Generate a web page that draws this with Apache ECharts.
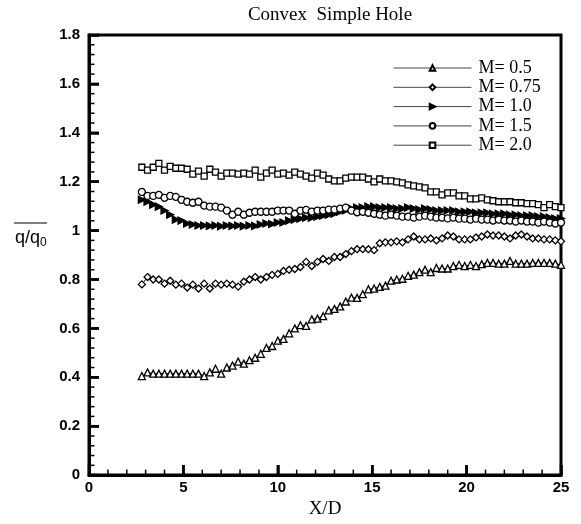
<!DOCTYPE html>
<html>
<head>
<meta charset="utf-8">
<script src="https://cdn.jsdelivr.net/npm/echarts@6/dist/echarts.min.js"></script>
<style>html,body{margin:0;padding:0;background:#fff;}#c{width:581px;height:524px;}</style>
</head>
<body>
<div id="c"></div>
<script>
const xs = [
  2.8,3.1,3.4,3.7,4.0,4.3,4.6,4.9,5.2,5.5,
  5.8,6.1,6.4,6.7,7.0,7.3,7.6,7.9,8.2,8.5,
  8.8,9.1,9.4,9.7,10.0,10.3,10.6,10.9,11.2,11.5,
  11.8,12.1,12.4,12.7,13.0,13.3,13.6,13.9,14.2,14.5,
  14.8,15.1,15.4,15.7,16.0,16.3,16.6,16.9,17.2,17.5,
  17.8,18.1,18.4,18.7,19.0,19.3,19.6,19.9,20.2,20.5,
  20.8,21.1,21.4,21.7,22.0,22.3,22.6,22.9,23.2,23.5,
  23.8,24.1,24.4,24.7,25.0
];
const seriesNames = ['M= 0.5','M= 0.75','M= 1.0','M= 1.5','M= 2.0'];
const m05 = [
  0.405,0.42,0.415,0.415,0.415,0.415,0.415,0.415,0.415,0.415,
  0.415,0.405,0.42,0.435,0.415,0.44,0.448,0.464,0.456,0.47,
  0.48,0.496,0.52,0.528,0.55,0.557,0.58,0.60,0.613,0.61,
  0.637,0.64,0.65,0.674,0.68,0.69,0.71,0.726,0.725,0.74,
  0.76,0.763,0.77,0.775,0.795,0.80,0.803,0.815,0.82,0.83,
  0.84,0.83,0.847,0.845,0.845,0.855,0.86,0.855,0.86,0.855,
  0.863,0.868,0.868,0.865,0.865,0.876,0.865,0.865,0.865,0.868,
  0.868,0.868,0.868,0.865,0.86
];
const m075 = [
  0.78,0.81,0.80,0.80,0.783,0.795,0.779,0.783,0.767,0.779,
  0.763,0.783,0.763,0.783,0.779,0.783,0.779,0.771,0.791,0.80,
  0.81,0.80,0.81,0.819,0.823,0.835,0.84,0.843,0.851,0.872,
  0.855,0.872,0.884,0.876,0.892,0.892,0.904,0.916,0.924,0.924,
  0.924,0.92,0.948,0.952,0.952,0.956,0.952,0.964,0.976,0.964,
  0.964,0.968,0.96,0.968,0.98,0.976,0.964,0.964,0.964,0.972,
  0.976,0.984,0.98,0.98,0.976,0.968,0.98,0.984,0.976,0.968,
  0.968,0.964,0.964,0.96,0.956
];
const m10 = [
  1.126,1.118,1.106,1.098,1.082,1.065,1.045,1.041,1.029,1.025,
  1.021,1.021,1.019,1.021,1.018,1.021,1.019,1.021,1.018,1.021,
  1.019,1.025,1.029,1.027,1.033,1.033,1.041,1.045,1.049,1.053,
  1.053,1.057,1.061,1.065,1.069,1.077,1.082,1.090,1.094,1.094,
  1.098,1.098,1.094,1.094,1.094,1.090,1.090,1.094,1.090,1.086,
  1.090,1.086,1.082,1.082,1.082,1.082,1.077,1.077,1.077,1.073,
  1.073,1.073,1.069,1.069,1.069,1.065,1.065,1.061,1.061,1.061,
  1.057,1.057,1.053,1.049,1.049
];
const m15 = [
  1.158,1.142,1.142,1.146,1.134,1.142,1.138,1.126,1.118,1.114,
  1.118,1.102,1.098,1.098,1.094,1.082,1.065,1.077,1.065,1.073,
  1.077,1.077,1.077,1.077,1.082,1.082,1.082,1.069,1.082,1.085,
  1.078,1.082,1.082,1.086,1.086,1.090,1.094,1.082,1.075,1.077,
  1.073,1.069,1.065,1.061,1.065,1.061,1.057,1.057,1.053,1.057,
  1.061,1.057,1.053,1.053,1.050,1.053,1.049,1.049,1.045,1.049,
  1.045,1.045,1.041,1.045,1.041,1.041,1.037,1.041,1.037,1.037,
  1.033,1.037,1.033,1.029,1.033
];
const m20 = [
  1.259,1.247,1.259,1.275,1.247,1.263,1.255,1.255,1.251,1.231,
  1.243,1.223,1.251,1.239,1.223,1.235,1.235,1.231,1.235,1.231,
  1.247,1.219,1.235,1.247,1.231,1.235,1.227,1.239,1.231,1.223,
  1.215,1.235,1.227,1.211,1.203,1.203,1.215,1.219,1.219,1.219,
  1.211,1.199,1.211,1.203,1.203,1.199,1.195,1.187,1.183,1.179,
  1.175,1.158,1.158,1.146,1.154,1.154,1.142,1.142,1.130,1.130,
  1.134,1.126,1.122,1.118,1.118,1.118,1.114,1.114,1.110,1.110,
  1.106,1.094,1.106,1.098,1.094
];
const yTicks = [0,0.2,0.4,0.6,0.8,1,1.2,1.4,1.6,1.8];
const xTicks = [0,5,10,15,20,25];
const xMinorTicks = [1,2,3,4,6,7,8,9,11,12,13,14,16,17,18,19,21,22,23,24];
const yMinorTicks = [0.04,0.08,0.12,0.16,0.24,0.28,0.32,0.36,0.44,0.48,0.52,0.56,
  0.64,0.68,0.72,0.76,0.84,0.88,0.92,0.96,1.04,1.08,1.12,1.16,1.24,1.28,1.32,1.36,
  1.44,1.48,1.52,1.56,1.64,1.68,1.72,1.76];

const pair = vals => xs.map((x, i) => [x, vals[i]]);
const rightTri = 'path://M0,0 L10,5 L0,10 Z';
const xMin = xTicks[0], xMax = xTicks[xTicks.length - 1];
const yMin = yTicks[0], yMax = yTicks[yTicks.length - 1];

function mk(name, vals, symbol, size, filled) {
  return {
    name: name, type: 'line', data: pair(vals),
    xAxisIndex: 0, yAxisIndex: 0,
    symbol: symbol, symbolSize: size,
    showSymbol: true,
    lineStyle: { color: '#000', width: 1 },
    itemStyle: { color: filled ? '#000' : '#fff', borderColor: '#000', borderWidth: 1.3 },
    emphasis: { disabled: true },
    z: 3
  };
}

// tick marks placed through the axes' scales: [x, y, length, direction(0 = x-axis tick, 1 = y-axis tick)]
const tickData = []
  .concat(xTicks.map(v => [v, yMin, 10, 0]))
  .concat(xMinorTicks.map(v => [v, yMin, 5.5, 0]))
  .concat(yTicks.map(v => [xMin, v, 10, 1]))
  .concat(yMinorTicks.map(v => [xMin, v, 5.5, 1]));

const tickSeries = {
  type: 'custom', name: 'ticks', coordinateSystem: 'cartesian2d',
  xAxisIndex: 0, yAxisIndex: 0, silent: true, clip: false, z: 10, zlevel: 1,
  data: tickData,
  renderItem: function (params, api) {
    const p = api.coord([api.value(0), api.value(1)]);
    const len = api.value(2);
    const dir = api.value(3);
    const shape = dir === 0
      ? { x1: p[0], y1: p[1], x2: p[0], y2: p[1] - len }
      : { x1: p[0], y1: p[1], x2: p[0] + len, y2: p[1] };
    return { type: 'line', shape: shape, style: { stroke: '#000', lineWidth: len > 7 ? 2.5 : 1.5 } };
  }
};

const chart = echarts.init(document.getElementById('c'));
chart.setOption({
  animation: false,
  title: {
    text: 'Convex  Simple Hole',
    left: 325, top: 1, textAlign: 'center',
    textStyle: { fontFamily: 'Liberation Serif', fontSize: 19, fontWeight: 'normal', color: '#000' }
  },
  legend: {
    orient: 'vertical', left: 388, top: 54,
    itemWidth: 78, itemHeight: 7, itemGap: 1.3,
    data: seriesNames,
    lineStyle: { width: 1, color: '#444' },
    textStyle: { fontFamily: 'Liberation Serif', fontSize: 18, color: '#000', lineHeight: 18, padding: [0, 0, 0, 2] }
  },
  grid: {
    left: 89, right: 20, top: 35, bottom: 43,
    show: true, borderColor: '#000', borderWidth: 3
  },
  xAxis: [
    {
      type: 'value', min: xMin, max: xMax, interval: 5, zlevel: 1,
      name: 'X/D', nameLocation: 'middle', nameGap: 23,
      nameTextStyle: { fontFamily: 'Liberation Serif', fontSize: 19, color: '#000' },
      axisLine: { show: true, lineStyle: { color: '#000', width: 3 } },
      axisTick: { show: true, inside: true, length: 10, lineStyle: { color: '#000', width: 2.5 } },
      splitLine: { show: false },
      axisLabel: { margin: 5, fontFamily: 'Liberation Sans', fontWeight: 'bold', fontSize: 15, color: '#000' }
    }
  ],
  yAxis: [
    {
      type: 'value', min: yMin, max: yMax, interval: 0.2, zlevel: 1,
      axisLine: { show: true, lineStyle: { color: '#000', width: 3 } },
      axisTick: { show: true, inside: true, length: 10, lineStyle: { color: '#000', width: 2.5 } },
      splitLine: { show: false },
      axisLabel: { margin: 9, fontFamily: 'Liberation Sans', fontWeight: 'bold', fontSize: 15, color: '#000' }
    }
  ],
  graphic: [
    {
      type: 'text', left: 15, top: 229,
      style: {
        text: '{a|q/q}{b|0}',
        rich: {
          a: { fontFamily: 'Liberation Sans', fontSize: 18, fill: '#000' },
          b: { fontFamily: 'Liberation Sans', fontSize: 12, fill: '#000', padding: [10, 0, 0, 0] }
        }
      }
    },
    {
      type: 'line', shape: { x1: 14, y1: 223, x2: 47, y2: 223 },
      style: { stroke: '#000', lineWidth: 1 }
    }
  ],
  series: [
    mk(seriesNames[0], m05, 'triangle', 7, false),
    mk(seriesNames[1], m075, 'diamond', 7, false),
    mk(seriesNames[2], m10, rightTri, 7, true),
    mk(seriesNames[3], m15, 'circle', 7, false),
    mk(seriesNames[4], m20, 'rect', 6, false),
    tickSeries
  ]
});
</script>
</body>
</html>
